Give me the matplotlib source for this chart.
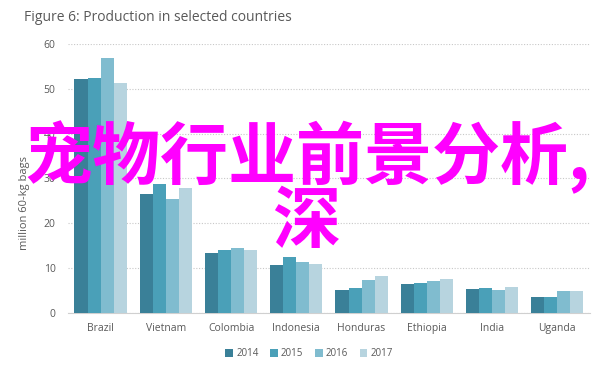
import matplotlib
matplotlib.use("Agg")
import matplotlib.pyplot as plt
import numpy as np

countries = ["Brazil", "Vietnam", "Colombia", "Indonesia", "Honduras", "Ethiopia", "India", "Uganda"]
years = ["2014", "2015", "2016", "2017"]
v2014 = [52.3, 26.5, 13.3, 10.8, 5.1, 6.5, 5.4, 3.6]
v2015 = [52.5, 28.8, 14.0, 12.5, 5.6, 6.7, 5.6, 3.5]
v2016 = [56.9, 25.5, 14.6, 11.4, 7.4, 7.1, 5.1, 4.9]
v2017 = [51.2, 27.9, 14.0, 10.9, 8.3, 7.5, 5.7, 4.9]
series = [v2014, v2015, v2016, v2017]
colors = ["#3a8098", "#4aa0b8", "#80bccf", "#b7d4df"]
yticks = [0, 10, 20, 30, 40, 50, 60]

plt.rcParams['font.family'] = ['Open Sans', 'DejaVu Sans']

fig = plt.figure(figsize=(6.12, 3.66), dpi=100)
ax = fig.add_axes([0.111, 0.1448, 0.853, 0.735])

x = np.arange(len(countries))
group_w = 0.8
bw = group_w / 4
for i, (vals, c, yr) in enumerate(zip(series, colors, years)):
    ax.bar(x - group_w / 2 + bw * (i + 0.5), vals, width=bw, color=c, label=yr, zorder=3)

ax.set_xlim(-0.5, len(countries) - 0.5)
ax.set_ylim(0, 60)
ax.set_yticks(yticks)
ax.set_xticks(x)
ax.set_xticklabels(countries)
ax.tick_params(axis='both', length=0, labelsize=7.5, colors="#595959")
ax.tick_params(axis='y', pad=9)
ax.tick_params(axis='x', pad=7)
ax.yaxis.grid(True, linestyle=(0, (1, 1.5)), color="#c8c8c8", linewidth=0.8, zorder=0)
for s in ["top", "right", "left"]:
    ax.spines[s].set_visible(False)
ax.spines["bottom"].set_color("#d0d0d0")
ax.set_ylabel("million 60-kg bags", fontsize=8, color="#595959")
ax.yaxis.set_label_coords(-0.073, 0.41)

fig.text(0.039, 0.953, "Figure 6: Production in selected countries", fontsize=10,
         color="#595959", ha="left", va="center")

leg = fig.legend(loc="center", bbox_to_anchor=(0.505, 0.033), ncol=4, frameon=False,
                 fontsize=7, handlelength=0.8, handleheight=0.8, handletextpad=0.3,
                 columnspacing=1.2, labelcolor="#595959")

# watermark overlay
fig.text(0.502, 0.570, "宠物行业前景分析,", fontsize=49, color="#ff00ff", fontweight="bold",
         ha="center", va="center", family=["Noto Sans CJK SC", "DejaVu Sans"])
fig.text(0.500, 0.388, "深", fontsize=49, color="#ff00ff", fontweight="bold",
         ha="center", va="center", family=["Noto Sans CJK SC", "DejaVu Sans"])

fig.savefig("out.png", dpi=100)
